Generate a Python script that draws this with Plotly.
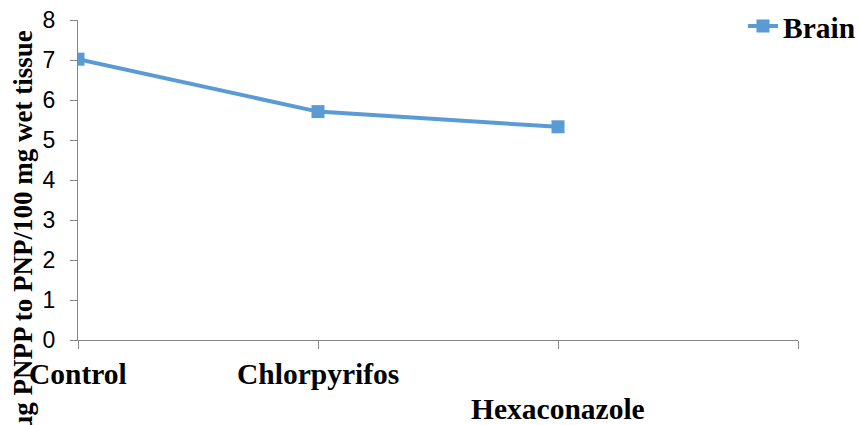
import plotly.graph_objects as go

categories = ["Control", "Chlorpyrifos", "Hexaconazole"]
brain = [7.02, 5.71, 5.33]
y_ticks = [0, 1, 2, 3, 4, 5, 6, 7, 8]
label_rows = [0, 0, 1]

xpos = list(range(len(categories)))

fig = go.Figure()
fig.add_trace(go.Scatter(
    x=xpos, y=brain, mode="lines+markers", name="<b>Brain</b>",
    line=dict(color="#5B9BD5", width=4),
    marker=dict(symbol="square", size=13, color="#5B9BD5"),
))

serif = "Liberation Serif, Times New Roman, serif"
for i, c in enumerate(categories):
    fig.add_annotation(
        x=i, y=0, xref="x", yref="paper", text="<b>%s</b>" % c,
        showarrow=False, xanchor="center", yanchor="middle",
        yshift=-34 - 35 * label_rows[i],
        font=dict(family=serif, size=29.5, color="black"),
    )

fig.add_annotation(
    x=0, xref="paper", xshift=-55, y=0.34, yref="paper",
    text="<b>µg PNPP to PNP/100 mg wet tissue</b>", textangle=-90,
    showarrow=False, xanchor="center", yanchor="middle",
    font=dict(family=serif, size=27, color="black"),
)

fig.update_layout(
    width=858, height=425,
    margin=dict(l=78, r=60, t=20, b=85, autoexpand=False),
    paper_bgcolor="white", plot_bgcolor="white",
    showlegend=True,
    legend=dict(x=0.9236, y=0.98, xanchor="left", yanchor="middle",
                font=dict(family=serif, size=29.5, color="black"),
                bgcolor="rgba(0,0,0,0)"),
    xaxis=dict(range=[0, 3], tickvals=[0, 1, 2, 3], showticklabels=False,
               ticks="outside", ticklen=8, tickcolor="#868686",
               showline=True, linecolor="#868686", linewidth=1,
               showgrid=False, zeroline=False),
    yaxis=dict(range=[0, 8], tickvals=y_ticks, ticks="outside", ticklen=7,
               tickcolor="#868686", showline=True, linecolor="#868686",
               linewidth=1, showgrid=False, zeroline=False,
               tickfont=dict(family="Liberation Sans, Arial", size=23, color="black"),
               ticklabelstandoff=10, ticklabeloverflow="allow"),
)
fig.write_html(
    "out.html",
    config={"displayModeBar": False},
    post_script="document.body.style.margin='0';document.documentElement.style.overflow='hidden';",
)
